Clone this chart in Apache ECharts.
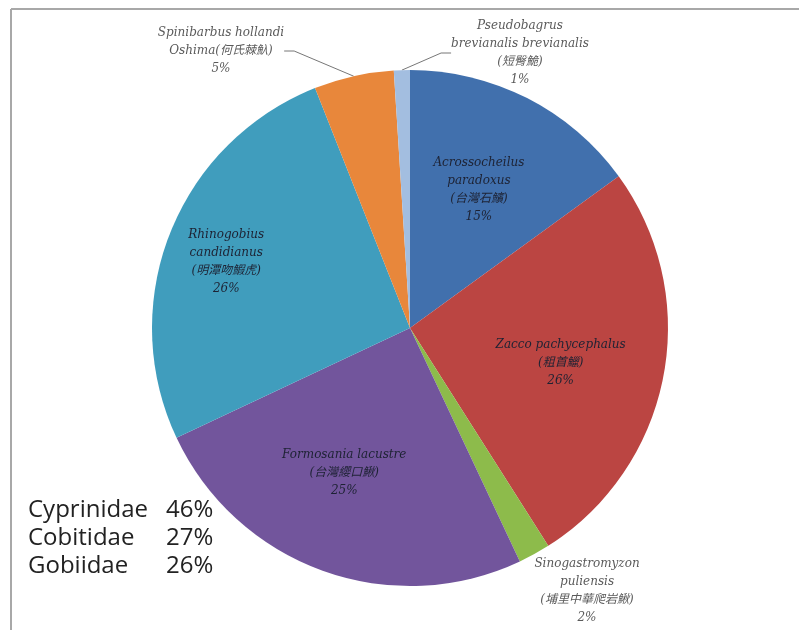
<!DOCTYPE html>
<html>
<head>
<meta charset="utf-8">
<script src="https://cdn.jsdelivr.net/npm/echarts@6/dist/echarts.min.js"></script>
<style>html,body{margin:0;padding:0;background:#fff;}#c{width:799px;height:630px;}</style>
</head>
<body>
<div id="c"></div>
<script>
// ---- data ----
var sciNames = ['Acrossocheilus\nparadoxus', 'Zacco pachycephalus', 'Sinogastromyzon\npuliensis', 'Formosania lacustre', 'Rhinogobius\ncandidianus', 'Spinibarbus hollandi\nOshima', 'Pseudobagrus\nbrevianalis brevianalis'];
var cnNames = ['台灣石𩼧', '粗首鱲', '埔里中華爬岩鰍', '台灣纓口鰍', '明潭吻鰕虎', '何氏棘魞', '短臀鮠'];
var percents = [15, 26, 2, 25, 26, 5, 1];
var familyNames = ['Cyprinidae', 'Cobitidae', 'Gobiidae'];
var familyPercents = [46, 27, 26];

// ---- style ----
var colors = ['#4170ad', '#bb4542', '#8dbb4b', '#72559c', '#409dbd', '#e8873b', '#a3bee0'];
var labelPlace = ['in', 'in', 'out', 'in', 'in', 'out', 'out'];
var inOffsets = [[9, -21], [21, 10], [0, 0], [-21, 21], [-61, -18], [0, 0], [0, 0]];
var outPos = { 2: [587, 591], 5: [221, 51], 6: [520, 53] };

var data = percents.map(function (v, i) {
  var inside = labelPlace[i] === 'in';
  var sep = (i === 5) ? '' : '\n';
  return {
    value: v,
    name: sciNames[i],
    itemStyle: { color: colors[i] },
    label: inside ? {
      position: 'inside',
      offset: inOffsets[i],
      color: '#1d2233',
      formatter: function () { return sciNames[i] + '\n(' + cnNames[i] + ')\n' + v + '%'; }
    } : {
      position: 'outside',
      color: '#5a5a5a',
      formatter: function () { return sciNames[i] + sep + '(' + cnNames[i] + ')\n' + v + '%'; }
    },
    labelLine: { show: !inside && i !== 2, lineStyle: { color: '#777', width: 1 }, length: 10, length2: 10 }
  };
});

var graphics = [
  { type: 'line', shape: { x1: 11, y1: 9, x2: 799, y2: 9 }, style: { stroke: '#a8a8a8', lineWidth: 2 } },
  { type: 'line', shape: { x1: 11, y1: 9, x2: 11, y2: 630 }, style: { stroke: '#a8a8a8', lineWidth: 2 } }
];
familyNames.forEach(function (n, i) {
  graphics.push({ type: 'text', x: 28, y: 510 + i * 28, style: { text: n, font: '24px "Open Sans"', fill: '#222', verticalAlign: 'middle' } });
  graphics.push({ type: 'text', x: 166, y: 510 + i * 28, style: { text: familyPercents[i] + '%', font: '24px "Open Sans"', fill: '#222', verticalAlign: 'middle' } });
});

var chart = echarts.init(document.getElementById('c'), null, { renderer: 'canvas' });
chart.setOption({
  backgroundColor: '#fff',
  animation: false,
  graphic: graphics,
  series: [{
    type: 'pie',
    center: [410, 328],
    radius: [0, 258],
    startAngle: 90,
    clockwise: true,
    avoidLabelOverlap: false,
    data: data,
    label: {
      fontFamily: '"DejaVu Serif", "Noto Sans CJK TC", serif',
      fontStyle: 'italic',
      fontSize: 12,
      lineHeight: 18,
      align: 'center'
    },
    labelLayout: function (p) {
      var pos = outPos[p.dataIndex];
      if (pos) {
        return { x: pos[0], y: pos[1], align: 'center', verticalAlign: 'middle' };
      }
      return {};
    },
    emphasis: { disabled: true }
  }]
});
</script>
</body>
</html>
